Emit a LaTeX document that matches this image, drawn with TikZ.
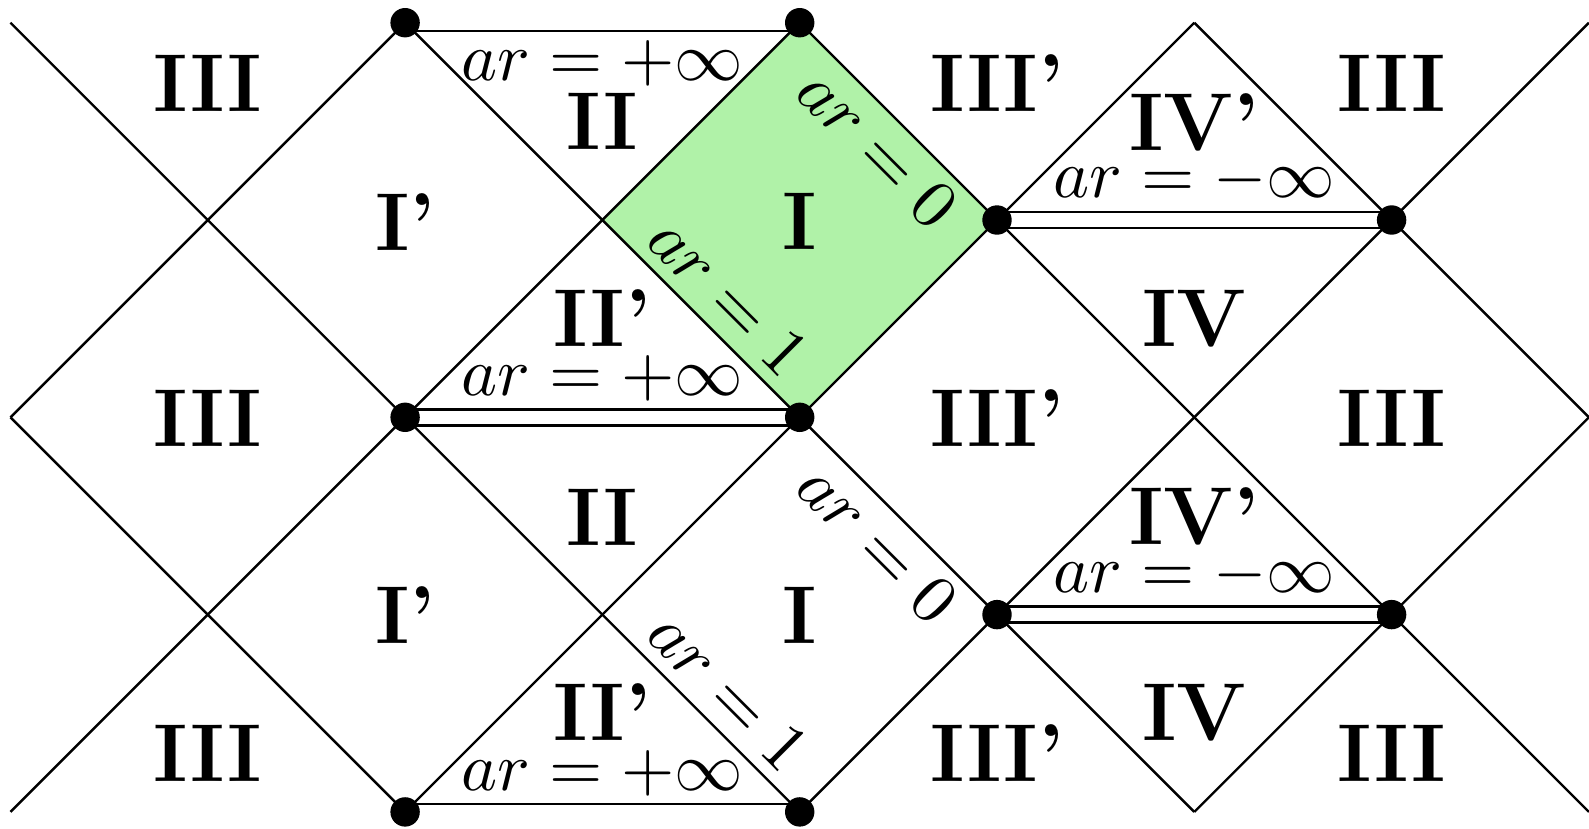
\documentclass[tikz,border=0pt]{standalone}
\usepackage{fontspec}
\usepackage{graphicx}
\definecolor{regiongreen}{RGB}{176,242,168}
\newcommand{\bigmath}[1]{\scalebox{6.85}{$#1$}}
\begin{document}
\begin{tikzpicture}[x=1pt,y=-1pt,
  ln/.style={line width=2.4pt,black},
  dbl/.style={line width=2.4pt,draw=black,double=white,double distance=13.6pt},
  dot/.style={circle,fill=black,inner sep=0pt,minimum size=29.4pt},
  reg/.style={font=\fontsize{82}{90}\selectfont\bfseries,anchor=base,inner sep=0pt},
  lab/.style={inner sep=0pt},
  labb/.style={lab,anchor=base},
  labr/.style={lab,rotate=-45,anchor=center}]
\useasboundingbox (0,0) rectangle (1589,828);
\fill[white] (0,0) rectangle (1589,828);
\foreach \i in {0,...,8}{
  \foreach \j in {0,...,4}{
    \coordinate (p\i\j) at ({10.5+197.3*\i},{22.7+197.3*\j});
  }
}
% green region I
\fill[regiongreen] (p40) -- (p51) -- (p42) -- (p31) -- cycle;
% lines going down-right
\draw[ln] (p00) -- (p44);
\draw[ln] (p20) -- (p64);
\draw[ln] (p40) -- (p84);
\draw[ln] (p60) -- (p82);
\draw[ln] (p02) -- (p24);
% lines going up-right
\draw[ln] (p02) -- (p20);
\draw[ln] (p04) -- (p40);
\draw[ln] (p24) -- (p60);
\draw[ln] (p44) -- (p80);
\draw[ln] (p64) -- (p82);
% horizontal lines
\draw[ln] ([yshift=-8.3pt]p20) -- ([yshift=-8.3pt]p40);
\draw[ln] ([yshift=8pt]p24) -- ([yshift=8pt]p44);
\draw[dbl] (p22) -- (p42);
\draw[dbl] (p51) -- (p71);
\draw[dbl] (p53) -- (p73);
% dots
\foreach \p in {20,40,51,71,22,42,53,73,24,44}{
  \node[dot] (d\p) at (p\p) {};
}
% region labels
\node[reg] (r1)  at (207.8,111.7) {III};
\node[reg] (r2)  at (405.1,250) {I'};
\node[reg] (r3)  at (602.4,149) {II};
\node[reg] (r4)  at (799.7,249) {I};
\node[reg] (r5)  at (997.0,111.7) {III'};
\node[reg] (r6)  at (1194.3,150) {IV'};
\node[reg] (r7)  at (1391.6,111.7) {III};
\node[reg] (r8)  at (602.4,346.7) {II'};
\node[reg] (r9)  at (1194.3,346.7) {IV};
\node[reg] (r10) at (207.8,446.7) {III};
\node[reg] (r11) at (997.0,446.7) {III'};
\node[reg] (r12) at (1391.6,446.7) {III};
\node[reg] (r13) at (602.4,545) {II};
\node[reg] (r14) at (1194.3,544) {IV'};
\node[reg] (r15) at (405.1,643.3) {I'};
\node[reg] (r16) at (799.7,643.3) {I};
\node[reg] (r17) at (602.4,740) {II'};
\node[reg] (r18) at (1194.3,740) {IV};
\node[reg] (r19) at (207.8,781.7) {III};
\node[reg] (r20) at (997.0,781.7) {III'};
\node[reg] (r21) at (1391.6,781.7) {III};
% boundary labels
\node[labb] (l1) at (602.4,80) {\bigmath{ar=+\infty}};
\node[labb] (l2) at (602.4,395) {\bigmath{ar=+\infty}};
\node[labb] (l3) at (602.4,790) {\bigmath{ar=+\infty}};
\node[labb] (l4) at (1194.3,197.5) {\bigmath{ar=-\infty}};
\node[labb] (l5) at (1194.3,592) {\bigmath{ar=-\infty}};
\node[labr] (l6) at (878,148.5) {\bigmath{ar=0}};
\node[labr] (l7) at (878,543.5) {\bigmath{ar=0}};
\node[labr] (l8) at (728.5,296.5) {\bigmath{ar=1}};
\node[labr] (l9) at (728.5,691) {\bigmath{ar=1}};
\end{tikzpicture}
\end{document}
